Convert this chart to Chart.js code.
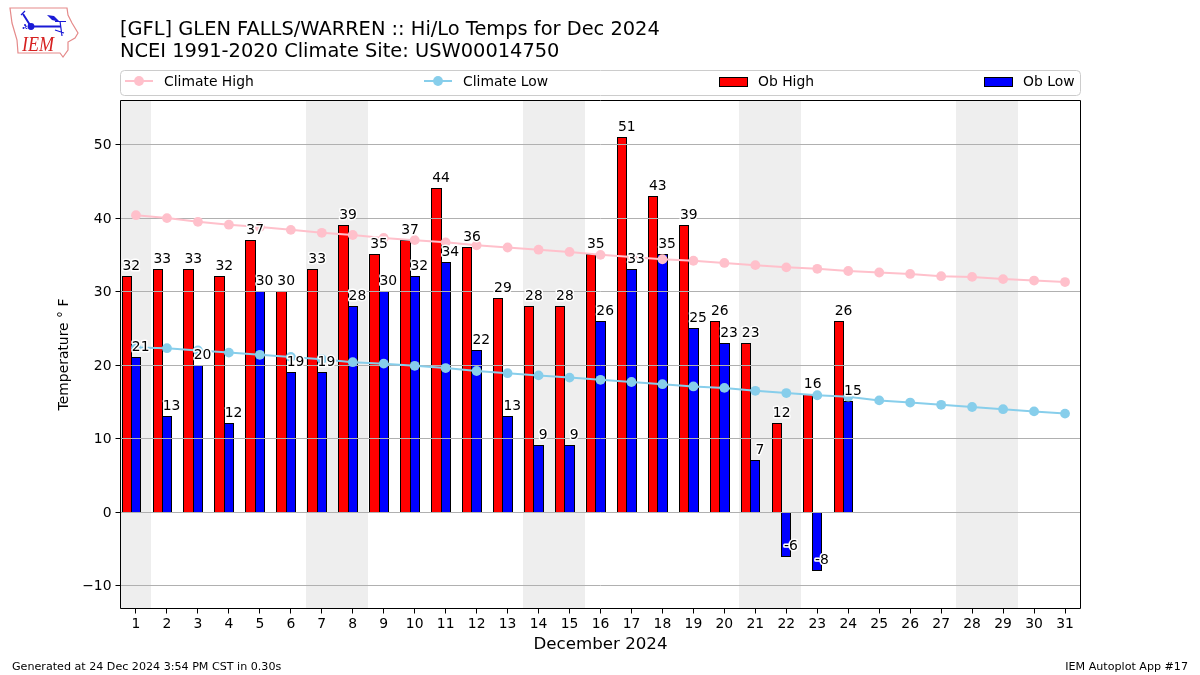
<!DOCTYPE html>
<html>
<head>
<meta charset="utf-8">
<title>GFL Hi/Lo Temps</title>
<script src="https://cdn.jsdelivr.net/npm/chart.js@4/dist/chart.umd.min.js"></script>
<style>
html, body { margin: 0; padding: 0; background: #fff; }
canvas { display: block; }
</style>
</head>
<body>
<canvas id="tempChart" width="1200" height="675"></canvas>
<script>
var days = ['1','2','3','4','5','6','7','8','9','10','11','12','13','14','15','16','17','18','19','20','21','22','23','24','25','26','27','28','29','30','31'];
var climateHigh = [40.4,40.0,39.5,39.1,38.8,38.4,38.0,37.7,37.3,37.0,36.7,36.3,36.0,35.7,35.4,35.0,34.7,34.4,34.2,33.9,33.6,33.3,33.1,32.8,32.6,32.4,32.1,32.0,31.7,31.5,31.3];
var climateLow = [22.4,22.3,22.0,21.7,21.4,21.1,20.8,20.4,20.2,19.9,19.6,19.2,18.9,18.6,18.3,18.0,17.7,17.4,17.1,16.9,16.5,16.2,15.9,15.7,15.2,14.9,14.6,14.3,14.0,13.7,13.4];
var obHigh = [32,33,33,32,37,30,33,39,35,37,44,36,29,28,28,35,51,43,39,26,23,12,16,26,null,null,null,null,null,null,null];
var obLow = [21,13,20,12,30,19,19,28,30,32,34,22,13,9,9,26,33,35,25,23,7,-6,-8,15,null,null,null,null,null,null,null];
var spacer = days.map(function () { return null; }); // empty third slot, keeps bars left of the tick
var yTicks = [-10,0,10,20,30,40,50];
var weekends = [['1','1'],['7','8'],['14','15'],['21','22'],['28','29']];

var FONT = '"DejaVu Sans"';

// shading, grid and frame are drawn by hand so the z order matches the original
var decorations = {
    id: 'decorations',
    // snap bars to whole pixels, neighbours share their 1px border like the original
    afterDatasetsUpdate: function (chart) {
        chart.getSortedVisibleDatasetMetas().forEach(function (meta) {
            if (meta.type !== 'bar') return;
            meta.data.forEach(function (el) {
                if (el.skip) return;
                var l = Math.floor(el.x - el.width / 2);
                var r = Math.floor(el.x + el.width / 2) + 1;
                el.x = (l + r) / 2;
                el.width = r - l;
                if (el.y <= el.base) {
                    el.y = Math.floor(el.y);
                    el.base = Math.floor(el.base) + 1;
                } else {
                    el.y = Math.floor(el.y) + 1;
                    el.base = Math.floor(el.base);
                }
                el.height = el.base - el.y;
            });
        });
    },
    beforeDatasetsDraw: function (chart) {
        var ctx = chart.ctx, a = chart.chartArea, x = chart.scales.x;
        var half = (x.getPixelForValue(1) - x.getPixelForValue(0)) / 2;
        ctx.save();
        ctx.fillStyle = '#eeeeee';
        weekends.forEach(function (w) {
            var x0 = Math.floor(Math.max(x.getPixelForValue(days.indexOf(w[0])) - half, a.left));
            var x1 = Math.floor(x.getPixelForValue(days.indexOf(w[1])) + half);
            ctx.fillRect(x0, a.top, x1 - x0, a.bottom - a.top);
        });
        ctx.restore();
    },
    beforeDatasetDraw: function (chart, args) {
        if (args.index !== 1) return; // lines go on top of the grid, bars under it
        var ctx = chart.ctx, a = chart.chartArea, y = chart.scales.y;
        ctx.save();
        ctx.lineWidth = 1;
        yTicks.forEach(function (v) {
            var py = Math.floor(y.getPixelForValue(v)) + 0.5;
            ctx.strokeStyle = '#b0b0b0';
            ctx.beginPath();
            ctx.moveTo(a.left, py);
            ctx.lineTo(a.right, py);
            ctx.stroke();
            ctx.strokeStyle = '#000000';
            ctx.beginPath();
            ctx.moveTo(a.left - 5, py);
            ctx.lineTo(a.left, py);
            ctx.stroke();
        });
        ctx.restore();
    },
    afterDatasetsDraw: function (chart) {
        var ctx = chart.ctx, a = chart.chartArea, x = chart.scales.x, y = chart.scales.y;
        var step = x.getPixelForValue(1) - x.getPixelForValue(0);
        ctx.save();
        ctx.font = '13.9px ' + FONT;
        ctx.textAlign = 'center';
        ctx.textBaseline = 'alphabetic';
        ctx.lineJoin = 'round';
        function label(values, shift) {
            values.forEach(function (v, i) {
                if (v === null) return;
                var px = x.getPixelForValue(i) + shift * step;
                var py = y.getPixelForValue(v) - 6.5;
                ctx.strokeStyle = '#ffffff';
                ctx.lineWidth = 3;
                ctx.strokeText(String(v), px, py);
                ctx.fillStyle = '#000000';
                ctx.fillText(String(v), px, py);
            });
        }
        label(obHigh, -0.15);
        label(obLow, 0.15);
        ctx.strokeStyle = '#000000';
        ctx.lineWidth = 1;
        ctx.strokeRect(a.left, a.top, a.right - a.left, a.bottom - a.top);
        ctx.restore();
    },
    afterDraw: function (chart) {
        var ctx = chart.ctx;
        ctx.save();
        // titles
        ctx.fillStyle = '#000000';
        ctx.textAlign = 'left';
        ctx.textBaseline = 'alphabetic';
        ctx.font = '19.42px ' + FONT;
        ctx.fillText('[GFL] GLEN FALLS/WARREN :: Hi/Lo Temps for Dec 2024', 120, 35);
        ctx.fillText('NCEI 1991-2020 Climate Site: USW00014750', 120, 57);
        // footer
        ctx.font = '11.12px ' + FONT;
        ctx.fillText('Generated at 24 Dec 2024 3:54 PM CST in 0.30s', 12, 670);
        ctx.textAlign = 'right';
        ctx.fillText('IEM Autoplot App #17', 1188, 670);
        // legend
        ctx.textAlign = 'left';
        ctx.strokeStyle = '#cccccc';
        ctx.lineWidth = 1;
        ctx.beginPath();
        ctx.roundRect(120.5, 70.5, 960, 25, 4);
        ctx.stroke();
        ctx.font = '13.9px ' + FONT;
        function lineKey(x0, color, text) {
            ctx.strokeStyle = color;
            ctx.fillStyle = color;
            ctx.lineWidth = 2;
            ctx.beginPath();
            ctx.moveTo(x0, 81);
            ctx.lineTo(x0 + 28, 81);
            ctx.stroke();
            ctx.beginPath();
            ctx.arc(x0 + 14, 81, 4.9, 0, Math.PI * 2);
            ctx.fill();
            ctx.fillStyle = '#000000';
            ctx.fillText(text, x0 + 39, 86);
        }
        function barKey(x0, color, text) {
            ctx.fillStyle = color;
            ctx.strokeStyle = '#000000';
            ctx.lineWidth = 1;
            ctx.fillRect(x0 + 0.5, 77.5, 28, 9);
            ctx.strokeRect(x0 + 0.5, 77.5, 28, 9);
            ctx.fillStyle = '#000000';
            ctx.fillText(text, x0 + 39, 86);
        }
        lineKey(125, 'pink', 'Climate High');
        lineKey(424, 'skyblue', 'Climate Low');
        barKey(719, '#ff0000', 'Ob High');
        barKey(984, '#0000ff', 'Ob Low');
        // logo
        ctx.strokeStyle = '#e58a8a';
        ctx.lineWidth = 1.2;
        ctx.beginPath();
        [[10,8],[67,8],[68,15],[72,23],[78,33],[75,38],[68,42],[68,50],[63,57],[60,53],[18,53],[17,40],[12,23]].forEach(function (p, i) {
            if (i === 0) ctx.moveTo(p[0], p[1]); else ctx.lineTo(p[0], p[1]);
        });
        ctx.closePath();
        ctx.stroke();
        ctx.strokeStyle = '#1a1ad6';
        ctx.fillStyle = '#1a1ad6';
        ctx.lineWidth = 2;
        ctx.beginPath();
        ctx.moveTo(31, 26.5); ctx.lineTo(61, 26.5);
        ctx.moveTo(30, 25); ctx.lineTo(23, 14);
        ctx.stroke();
        ctx.lineWidth = 1.2;
        ctx.beginPath();
        ctx.moveTo(21, 15); ctx.lineTo(25, 11);
        ctx.moveTo(55, 21.5); ctx.lineTo(66, 21.5);
        ctx.moveTo(60, 21); ctx.lineTo(62, 36);
        ctx.moveTo(55, 30); ctx.lineTo(64, 33);
        ctx.stroke();
        ctx.beginPath();
        ctx.arc(31, 26.5, 3.4, 0, Math.PI * 2);
        ctx.fill();
        ctx.beginPath();
        ctx.moveTo(47, 15); ctx.lineTo(54, 16); ctx.lineTo(60, 22); ctx.lineTo(52, 20);
        ctx.closePath();
        ctx.fill();
        ctx.beginPath();
        ctx.arc(25, 25, 1, 0, Math.PI * 2);
        ctx.arc(23.5, 28, 1, 0, Math.PI * 2);
        ctx.arc(26.5, 28, 1, 0, Math.PI * 2);
        ctx.fill();
        ctx.fillStyle = '#d62020';
        ctx.font = 'italic 22px "Liberation Serif"';
        ctx.fillText('IEM', 22, 51, 32);
        ctx.restore();
    }
};

new Chart(document.getElementById('tempChart').getContext('2d'), {
    type: 'bar',
    data: {
        labels: days,
        datasets: [
            { type: 'line', label: 'Climate High', data: climateHigh, borderColor: 'pink', backgroundColor: 'pink', borderWidth: 2, pointRadius: 4.9, pointBorderWidth: 0, order: 1 },
            { type: 'line', label: 'Climate Low', data: climateLow, borderColor: 'skyblue', backgroundColor: 'skyblue', borderWidth: 2, pointRadius: 4.9, pointBorderWidth: 0, order: 1 },
            { label: 'Ob High', data: obHigh, backgroundColor: '#ff0000', borderColor: '#000000', borderWidth: 1, inflateAmount: 0, order: 2 },
            { label: 'Ob Low', data: obLow, backgroundColor: '#0000ff', borderColor: '#000000', borderWidth: 1, inflateAmount: 0, order: 2 },
            { label: '', data: spacer, order: 2 }
        ]
    },
    options: {
        responsive: false,
        animation: false,
        categoryPercentage: 0.9,
        barPercentage: 1,
        layout: { padding: { left: 56.5, top: 100.5, right: 119.5, bottom: 20 } },
        plugins: { legend: { display: false }, title: { display: false }, tooltip: { enabled: false } },
        scales: {
            x: {
                offset: true,
                grid: { drawOnChartArea: false, drawTicks: true, tickLength: 5, tickColor: '#000000', offset: false },
                border: { display: false },
                ticks: { color: '#000000', font: { family: FONT, size: 13.9 }, padding: 3, maxRotation: 0, autoSkip: false },
                title: { display: true, text: 'December 2024', color: '#000000', font: { family: FONT, size: 16.67 }, padding: 0 },
                afterFit: function (s) { s.height = 46.5; }
            },
            y: {
                min: -13.115,
                max: 56.0,
                afterBuildTicks: function (s) { s.ticks = yTicks.map(function (v) { return { value: v }; }); },
                grid: { drawOnChartArea: false, drawTicks: false },
                border: { display: false },
                ticks: {
                    color: '#000000',
                    font: { family: FONT, size: 13.9 },
                    padding: 9,
                    labelOffset: 1,
                    callback: function (v) { return String(v).replace('-', '\u2212'); }
                },
                title: { display: true, text: 'Temperature \u00B0 F', color: '#000000', font: { family: FONT, size: 13.9 }, padding: 0 },
                afterFit: function (s) { s.width = 64; }
            }
        }
    },
    plugins: [decorations]
});
</script>
</body>
</html>
